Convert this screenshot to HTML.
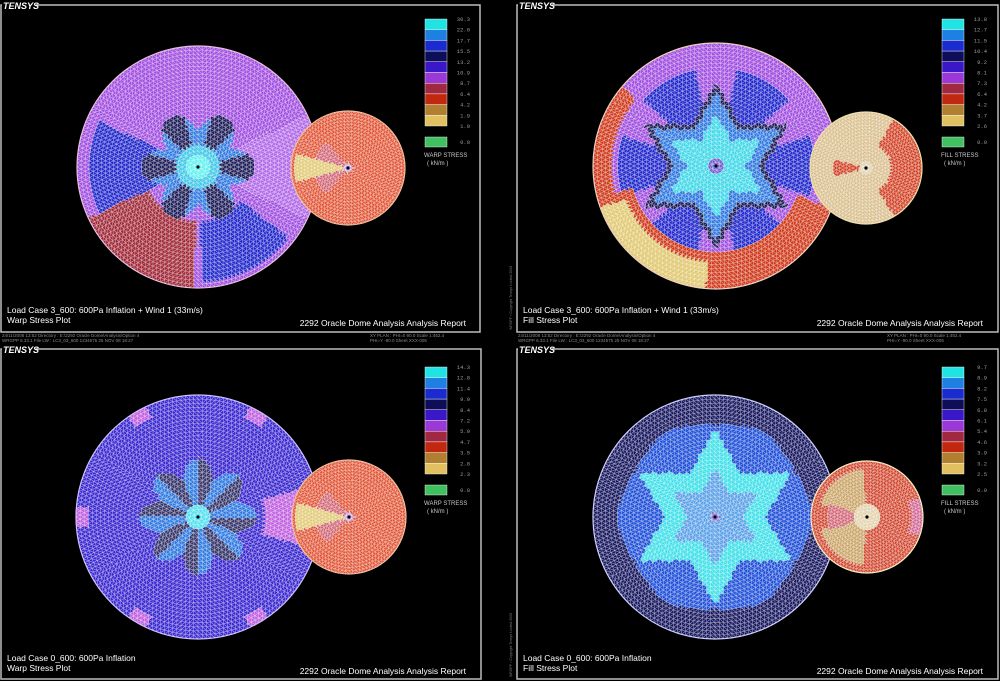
<!DOCTYPE html>
<html><head><meta charset="utf-8"><style>
html,body{margin:0;padding:0;background:#000;width:1000px;height:681px;overflow:hidden}
svg{display:block}
text{font-family:"Liberation Sans",sans-serif}
.m{font-family:"Liberation Mono",monospace}
</style></head><body>
<svg id="s" width="1000" height="681" viewBox="0 0 1000 681" xmlns="http://www.w3.org/2000/svg">
<rect width="1000" height="681" fill="#000"/>
<g fill="none" stroke="#bdbdbd" stroke-width="1.5">
<rect x="1" y="5" width="479" height="327"/>
<rect x="517" y="5" width="481" height="327"/>
<rect x="1" y="349" width="480" height="330"/>
<rect x="517" y="349" width="481" height="330"/>
</g>
<g id="meshes"></g>
<g id="legs"></g>
<g fill="#000"><rect x="2" y="0" width="34" height="11"/><rect x="518" y="0" width="34" height="11"/><rect x="2" y="344" width="34" height="11"/><rect x="518" y="344" width="34" height="11"/></g>
<g fill="#fff" font-size="9" font-weight="bold" font-style="italic">
<text x="3" y="9">TENSYS</text><text x="519" y="9">TENSYS</text>
<text x="3" y="353">TENSYS</text><text x="519" y="353">TENSYS</text>
</g>
<g fill="#fff" font-size="8.5">
<text x="7" y="313">Load Case 3_600: 600Pa Inflation + Wind 1 (33m/s)</text>
<text x="7" y="323">Warp Stress Plot</text>
<text x="466" y="326" text-anchor="end">2292 Oracle Dome Analysis Analysis Report</text>
<text x="523" y="313">Load Case 3_600: 600Pa Inflation + Wind 1 (33m/s)</text>
<text x="523" y="323">Fill Stress Plot</text>
<text x="983" y="326" text-anchor="end">2292 Oracle Dome Analysis Analysis Report</text>
<text x="7" y="661">Load Case 0_600: 600Pa Inflation</text>
<text x="7" y="671">Warp Stress Plot</text>
<text x="466" y="674" text-anchor="end">2292 Oracle Dome Analysis Analysis Report</text>
<text x="523" y="661">Load Case 0_600: 600Pa Inflation</text>
<text x="523" y="671">Fill Stress Plot</text>
<text x="983" y="674" text-anchor="end">2292 Oracle Dome Analysis Analysis Report</text>
</g>
<g fill="#8a8a8a" font-size="4.5" class="m">
<text x="2" y="337">24/11/2008  13:52          Directory : E:\2292 Oracle Dome\Analysis\Option 4</text>
<text x="2" y="342">WRGPP 6.33.1              File  LW : LC3_03_600          1234575       25 NOV 08  18:27</text>
<text x="370" y="337">XY PLAN : PHI=0   90.0        Scale  1:452.4</text>
<text x="370" y="342">              PHI=Y  -90.0        Sheet  XXX-005</text>
<text x="518" y="337">24/11/2008  13:52          Directory : E:\2292 Oracle Dome\Analysis\Option 4</text>
<text x="518" y="342">WRGPP 6.33.1              File  LW : LC3_03_600          1234575       25 NOV 08  18:27</text>
<text x="887" y="337">XY PLAN : PHI=0   90.0        Scale  1:452.4</text>
<text x="887" y="342">              PHI=Y  -90.0        Sheet  XXX-005</text>
</g>
<g fill="#777" font-size="3.5"><text transform="translate(512,330) rotate(-90)">WRGPP ▪ Copyright Tensys Limited 2008</text>
<text transform="translate(512,677) rotate(-90)">WRGPP ▪ Copyright Tensys Limited 2008</text></g>
</svg>
<script>
const NS="http://www.w3.org/2000/svg";
const M=document.getElementById('meshes'),L=document.getElementById('legs');
function el(t,a,p){const e=document.createElementNS(NS,t);for(const k in a)e.setAttribute(k,a[k]);(p||M).appendChild(e);return e;}
function pp(a){a=((a-90)%60+60)%60;return Math.abs(a-30)/30;}
function hx(a,R){let x=((a-90)%60+60)%60;const phi=Math.min(x,60-x);return R*0.5/Math.sin((150-phi)*Math.PI/180);}
function inA(a,lo,hi){a=(a%360+360)%360;return lo<=hi?(a>=lo&&a<=hi):(a>=lo||a<=hi);}
const CY='#30dde0',LB='#2e78e0',BL='#2228cc',NV='#1c1c58',VB='#3a20c8',VI='#a04ee0',RD='#a02838',OR='#d03a1c',TN='#c8a060',YE='#e0c870';
function cTL(r,a){
 if(r<0.1)return '#60f0f0';
 const b=0.3+0.17*Math.abs(Math.cos(3*a*Math.PI/180));
 if(r<b){ if(r<0.18)return '#40c8e8'; const k=Math.floor(((a+15)%360+360)%360/30); return k%2?LB:NV;}
 if(inA(a,155,205)&&r<0.9)return BL;
 if(inA(a,205,268)&&r>0.45)return RD;
 if(inA(a,272,322)&&r>0.45&&r<0.95)return BL;
 if(inA(a,335,25))return '#b068e8';
 return VI;}
function cTR(r,a){
 if(r<0.06)return '#7060d0';
 if(r<hx(a,0.42))return '#40d8e8';
 if(r<hx(a,0.6))return LB;
 if(r<hx(a,0.68))return NV;
 if(inA(a,200,265)&&r>0.78)return YE;
 if(inA(a,195,340)&&r>0.7)return OR;
 if(inA(a,140,200)&&r>0.85)return OR;
 if(r<0.8&&pp(a)<0.6)return BL;
 return VI;}
function cBL(r,a){
 if(r<0.1)return '#50e0f0';
 const b=0.32+0.16*Math.abs(Math.cos(4*a*Math.PI/180));
 if(r<b){const k=Math.floor(((a+22.5)%360+360)%360/22.5);return k%2?LB:'#34346a';}
 if(inA(a,345,15)&&r>0.55)return '#c060e0';
 if(r>0.9&&pp(a+30)>0.85)return '#c060e0';
 return '#3a28d0';}
function cBR(r,a){
 if(r<0.05)return '#8070d0';
 if(r<hx(a,0.42)*0.95)return '#5aa0e8';
 if(r<hx(a,0.72))return '#40e0e8';
 if(r<0.8-0.05*pp(a))return '#2050d8';
 return '#181860';}
function cS1(r,a){
 if(r<0.08)return '#c0a0f0';
 if(inA(a,165,195)&&r<0.95)return YE;
 if(inA(a,130,230)&&r<0.6)return '#d06070';
 return '#e05030';}
function cS2(r,a){
 if(r<0.1)return '#e0d0b0';
 if(inA(a,165,195)&&r<0.6)return OR;
 if(inA(a,300,60)&&r>0.45)return OR;
 return '#d8bc88';}
function cS4(r,a){
 if(r<0.22)return '#e0d0a8';
 if(inA(a,160,200)&&r<0.7)return '#d06070';
 if((inA(a,95,165)||inA(a,195,265))&&r<0.85)return TN;
 if(inA(a,340,20)&&r>0.8)return '#d06090';
 return '#d04028';}
function dome(cx,cy,R,N,f,rim){
 const g=el('g',{});
 const pts=[[[cx,cy]]];
 for(let i=1;i<=N;i++){const n=6*i,ar=[],off=(i%2)*Math.PI/n;for(let j=0;j<n;j++){const t=2*Math.PI*j/n+off;ar.push([cx+R*i/N*Math.cos(t),cy-R*i/N*Math.sin(t),t]);}pts.push(ar);}
 function col(ps){let x=0,y=0;for(const p of ps){x+=p[0];y+=p[1];}x/=ps.length;y/=ps.length;const dx=x-cx,dy=cy-y;return f(Math.hypot(dx,dy)/R,Math.atan2(dy,dx)*180/Math.PI);}
 const polys={};
 function add(ps){const c=col(ps);const s='M'+ps.map(p=>p[0].toFixed(1)+' '+p[1].toFixed(1)).join('L')+'Z';(polys[c]=polys[c]||[]).push(s);}
 for(let j=0;j<6;j++)add([pts[0][0],pts[1][j],pts[1][(j+1)%6]]);
 for(let i=2;i<=N;i++){
  const A=pts[i-1],B=pts[i],na=A.length,nb=B.length;
  let a=0,b=0;
  const ang=(arr,k,n)=>arr[0][2]+2*Math.PI*k/n;
  while(a<na||b<nb){
   const ta=ang(A,a+1,na),tb=ang(B,b+1,nb);
   if(b<nb&&(a>=na||tb<=ta)){add([A[a%na],B[b%nb],B[(b+1)%nb]]);b++;}
   else{add([A[a%na],B[b%nb],A[(a+1)%na]]);a++;}
  }
 }
 for(const c in polys)el('path',{d:polys[c].join(''),fill:c,stroke:'rgba(255,255,255,0.6)','stroke-width':0.55,'stroke-linejoin':'round'},g);
 el('circle',{cx,cy,r:R,fill:'none',stroke:rim,'stroke-width':1.2},g);
 el('circle',{cx,cy,r:1.6,fill:'#000'},g);
}
dome(198,167,121,30,cTL,'#e8c0e0');dome(348,168,57,17,cS1,'#f0c0a0');
dome(716,166,123,30,cTR,'#f0d0c0');dome(866,168,56,17,cS2,'#f0e0b0');
dome(198,517,122,30,cBL,'#d0c0ff');dome(349,517,57,17,cS1,'#f0c0a0');
dome(715,517,122,30,cBR,'#d0d0ff');dome(867,517,56,17,cS4,'#f8f0c0');
const LC=['#20e4e4','#1e80e0','#1a2cd0','#0e0e58','#3a18c8','#9a38d8','#a02840','#c02810','#b08030','#e0c060'];
function legend(x,y,vals,name){
 for(let i=0;i<10;i++)el('rect',{x,y:y+i*10.7,width:22,height:10.7,fill:LC[i],stroke:'#fff','stroke-width':0.4},L);
 el('rect',{x:x,y:y+118,width:22,height:10,fill:'#40c060',stroke:'#fff','stroke-width':0.4},L);
 vals.forEach((v,i)=>{const t=el('text',{x:x+45,y:y+2+i*10.7,fill:'#9a9a9a','font-size':5.5,'text-anchor':'end',class:'m'},L);t.textContent=v;});
 let t=el('text',{x:x-1,y:y+138,fill:'#c8c8c8','font-size':6},L);t.textContent=name;
 t=el('text',{x:x+2,y:y+146,fill:'#c8c8c8','font-size':6},L);t.textContent='( kN/m )';
 t=el('text',{x:x+45,y:y+125,fill:'#9a9a9a','font-size':5.5,'text-anchor':'end',class:'m'},L);t.textContent='0.0';
}
legend(425,19,['30.3','22.0','17.7','15.5','13.2','10.9','8.7','6.4','4.2','1.9','1.9'],'WARP STRESS');
legend(942,19,['13.8','12.7','11.5','10.4','9.2','8.1','7.3','6.4','4.2','3.7','2.6'],'FILL STRESS');
legend(425,367,['14.3','12.8','11.4','9.9','8.4','7.2','5.9','4.7','3.5','2.8','2.3'],'WARP STRESS');
legend(942,367,['9.7','8.9','8.2','7.5','6.8','6.1','5.4','4.6','3.9','3.2','2.5'],'FILL STRESS');
</script>
</body></html>
